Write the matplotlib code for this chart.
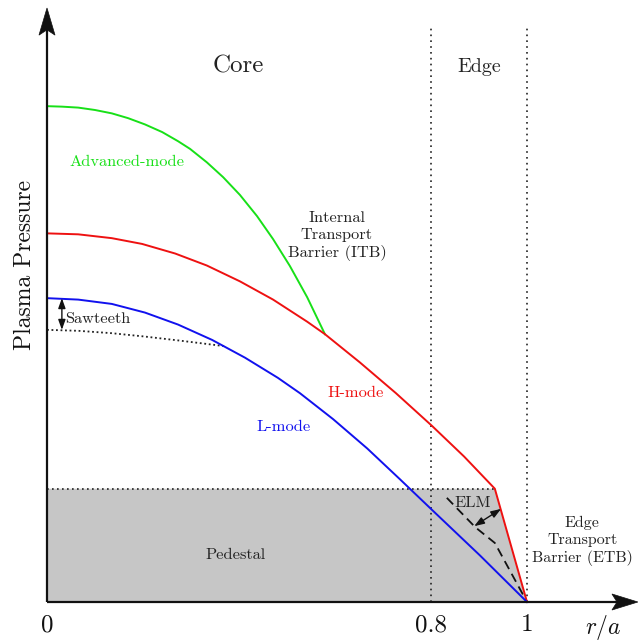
import numpy as np
import matplotlib
matplotlib.use('Agg')
import matplotlib.pyplot as plt
from matplotlib.patches import Polygon

plt.rcParams['font.family'] = ['cmr10', 'DejaVu Serif']
plt.rcParams['mathtext.fontset'] = 'cm'
plt.rcParams['axes.unicode_minus'] = False

# profili (r/a, pressione)
adv_x = [0.0, 0.031, 0.065, 0.1, 0.135, 0.169, 0.204, 0.24, 0.273, 0.298, 0.333, 0.367,
         0.402, 0.4375, 0.471, 0.506, 0.542, 0.579]
adv_y = [1.033, 1.032, 1.030, 1.025, 1.018, 1.008, 0.995, 0.979, 0.960, 0.944, 0.916, 0.885,
         0.848, 0.804, 0.756, 0.700, 0.635, 0.558]

h_x = [0.0, 0.065, 0.135, 0.198, 0.267, 0.333, 0.402, 0.471, 0.542, 0.579, 0.652, 0.727,
       0.802, 0.869, 0.933, 1.0]
h_y = [0.768, 0.766, 0.758, 0.746, 0.726, 0.701, 0.668, 0.630, 0.584, 0.558, 0.499, 0.435,
       0.367, 0.303, 0.236, 0.0]

l_x = [0.0, 0.065, 0.135, 0.204, 0.273, 0.344, 0.4125, 0.481, 0.527, 0.596, 0.667, 0.735,
       0.802, 0.902, 1.0]
l_y = [0.633, 0.630, 0.621, 0.603, 0.578, 0.546, 0.509, 0.467, 0.435, 0.381, 0.320, 0.256,
       0.192, 0.097, 0.0]

saw_x = [0.0, 0.065, 0.135, 0.204, 0.273, 0.37]
saw_y = [0.567, 0.565, 0.560, 0.553, 0.545, 0.533]

elm_x = [0.833, 0.892, 0.933, 1.0]
elm_y = [0.217, 0.156, 0.123, 0.0]

ped_x = [0.0, 0.0, 0.933, 1.0]
ped_y = [0.0, 0.236, 0.236, 0.0]

tick_pos = [0.0, 0.8, 1.0]
tick_lab = ['0', '0.8', '1']

fig = plt.figure(figsize=(6.41, 6.41), dpi=100)
ax = fig.add_axes([0, 0, 1, 1])
ax.set_xlim(-47/480, 594/480)
ax.set_ylim(-39/480, 602/480)
ax.axis('off')

# pedestal
ax.add_patch(Polygon(list(zip(ped_x, ped_y)), closed=True, fc='#c6c6c6', ec='none', zorder=1))
ax.plot([0, 0.933], [0.236, 0.236], ls=(0, (1, 2)), color='#222222', lw=1.2, zorder=2)

# linee verticali core / edge
for xv in [0.8, 1.0]:
    ax.plot([xv, xv], [0, 1.202], ls=(0, (1, 2.5)), color='#222222', lw=1.2, zorder=2)

ax.plot(saw_x, saw_y, ls=(0, (1, 1.5)), color='#222222', lw=1.3, zorder=3)
ax.plot(elm_x, elm_y, ls=(0, (5, 3)), color='#111111', lw=1.3, zorder=3)
ax.plot(adv_x, adv_y, color='#18e018', lw=1.4, zorder=4)
ax.plot(h_x, h_y, color='#ee1111', lw=1.4, zorder=4)
ax.plot(l_x, l_y, color='#1111ee', lw=1.4, zorder=5)

# assi con punta "stealth"
ax.plot([0, 1.19], [0, 0], color='#111111', lw=1.6, zorder=6, solid_capstyle='butt')
ax.plot([0, 0], [0, 1.2], color='#111111', lw=1.6, zorder=6, solid_capstyle='butt')
ax.add_patch(Polygon([(1.231, 0), (1.177, 0.0167), (1.1875, 0), (1.177, -0.0167)],
                     closed=True, fc='#111111', ec='#111111', lw=0.5, zorder=7))
ax.add_patch(Polygon([(0, 1.2375), (0.0167, 1.181), (0, 1.192), (-0.0167, 1.181)],
                     closed=True, fc='#111111', ec='#111111', lw=0.5, zorder=7))

small = dict(arrowstyle='<|-|>,head_length=0.5,head_width=0.18', color='#111111', lw=1.0,
             mutation_scale=12, shrinkA=0, shrinkB=0)
ax.annotate('', xy=(0.031, 0.633), xytext=(0.031, 0.567), arrowprops=small, zorder=6)
ax.annotate('', xy=(0.946, 0.194), xytext=(0.890, 0.158), arrowprops=small, zorder=6)

txt = '#222222'
fs = 11.8
ax.text(0.398, 1.115, 'Core', fontsize=18, ha='center', va='center', color=txt)
ax.text(0.9, 1.115, 'Edge', fontsize=14.5, ha='center', va='center', color=txt)
ax.text(0.167, 0.917, 'Advanced-mode', fontsize=fs, ha='center', va='center', color='#18e018')
ax.text(0.604, 0.7625, 'Internal\nTransport\nBarrier (ITB)', fontsize=fs, ha='center',
        va='center', color=txt, linespacing=1.25)
ax.text(0.642, 0.435, 'H-mode', fontsize=fs, ha='center', va='center', color='#ee1111')
ax.text(0.492, 0.365, 'L-mode', fontsize=fs, ha='center', va='center', color='#1111ee')
ax.text(0.0375, 0.59, 'Sawteeth', fontsize=fs, ha='left', va='center', color=txt)
ax.text(0.8875, 0.206, 'ELM', fontsize=fs, ha='center', va='center', color=txt)
ax.text(0.392, 0.098, 'Pedestal', fontsize=fs, ha='center', va='center', color=txt)
ax.text(1.115, 0.127, 'Edge\nTransport\nBarrier (ETB)', fontsize=11.5, ha='center',
        va='center', color=txt, linespacing=1.25)
ax.text(-0.046, 0.702, 'Plasma Pressure', fontsize=17, rotation=90, ha='center', va='center', color='#111111')

for p, lab in zip(tick_pos, tick_lab):
    ax.text(p, -0.048, lab, fontsize=18, ha='center', va='center', color='#111111')
ax.text(1.158, -0.053, r'$r/a$', fontsize=17, ha='center', va='center', color='#111111')

fig.savefig('out.png', dpi=100)
